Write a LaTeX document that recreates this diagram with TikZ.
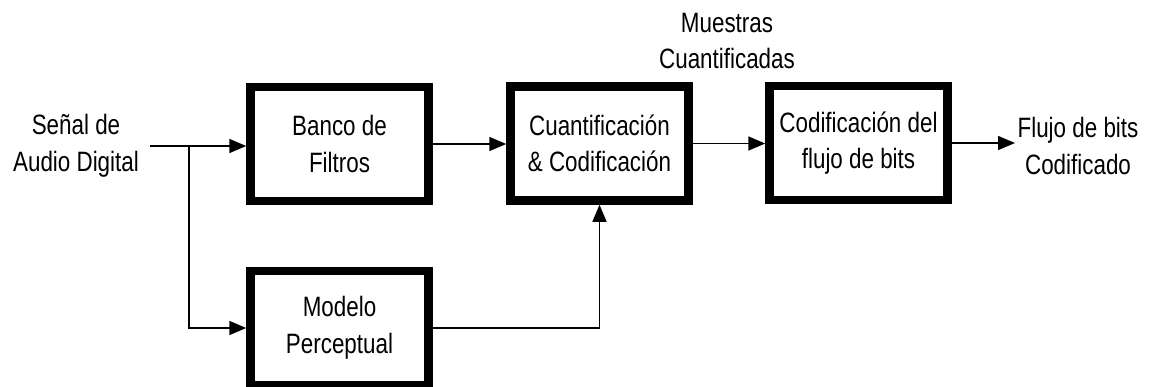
\documentclass[tikz,border=0pt]{standalone}
\usepackage{fontspec}
\setmainfont{Liberation Sans}[FakeStretch=0.80]
\usetikzlibrary{arrows.meta}
\tikzset{
  block/.style={draw, line width=8.5pt, minimum width=178pt, minimum height=114pt,
    align=center, inner sep=0pt, font=\fontsize{28pt}{36.5pt}\selectfont},
  lbl/.style={align=center, inner sep=0pt, font=\fontsize{28pt}{36.5pt}\selectfont},
  flow/.style={line width=1.6pt, -{Triangle[length=17pt,width=14pt]}}
}
\begin{document}
\begin{tikzpicture}[x=1pt, y=-1pt]
  \useasboundingbox (0,0) rectangle (1151,386);
  % processing blocks
  \node[block] (banco) at (339.5,144) {Banco de\\Filtros};
  \node[block] (modelo) at (339.5,328) {Modelo\\Perceptual};
  \node[block] (cuant) at (599.5,143.5) {Cuantificación\\\& Codificación};
  \node[block] (codif) at (858.5,143) {Codificación del\\flujo de bits};
  % text labels
  \node[lbl] (entrada) at (76,146) {Señal de\\Audio Digital};
  \node[lbl] (muestras) at (727,41) {Muestras\\Cuantificadas};
  \node[lbl] (salida) at (1078,146) {Flujo de bits\\Codificado};
  % connection points
  \coordinate (in) at (150,146);
  \coordinate (split) at (189,146);
  \coordinate (out) at (1015,145);
  % connectors
  \draw[flow] (in) -- (banco.west |- in);
  \draw[flow] (split) |- (modelo.west);
  \draw[flow] (banco.east) -- (cuant.west |- banco.east);
  \draw[flow] (modelo.east) -| (cuant.south);
  \draw[flow] (cuant.east) -- (codif.west |- cuant.east);
  \draw[flow] (codif.east) -- (codif.east -| out);
\end{tikzpicture}
\end{document}
